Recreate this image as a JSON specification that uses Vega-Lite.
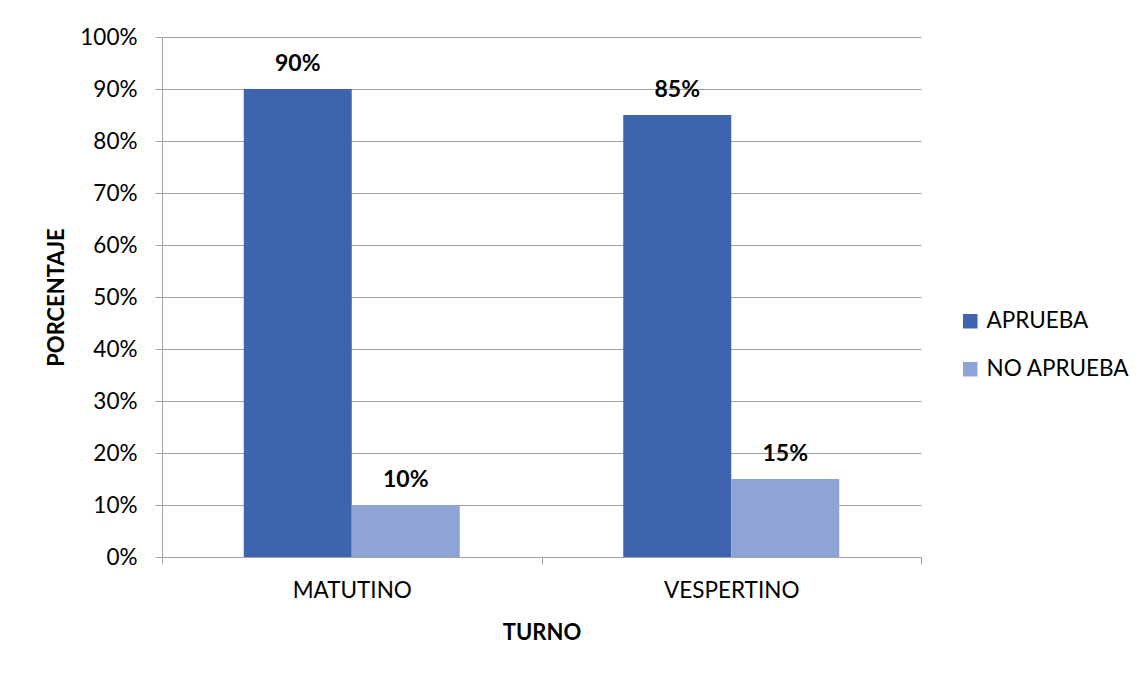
{
  "$schema": "https://vega.github.io/schema/vega-lite/v6.json",
  "width": 759,
  "height": 520,
  "autosize": {"type": "none"},
  "padding": {"left": 162, "top": 37, "right": 225, "bottom": 118},
  "background": "white",
  "config": {
    "font": "Lato",
    "view": {"stroke": null},
    "axis": {
      "domainColor": "#A3A3A3",
      "tickColor": "#A3A3A3",
      "gridColor": "#A3A3A3",
      "domainWidth": 1,
      "tickWidth": 1,
      "gridWidth": 1,
      "tickSize": 7,
      "labelFont": "Lato",
      "labelFontSize": 22.5,
      "labelColor": "#000000",
      "titleFont": "Lato",
      "titleFontSize": 22,
      "titleFontWeight": "bold",
      "titleColor": "#000000"
    }
  },
  "data": {
    "values": [
      {"turno": "MATUTINO", "resultado": "APRUEBA", "porcentaje": 0.90},
      {"turno": "MATUTINO", "resultado": "NO APRUEBA", "porcentaje": 0.10},
      {"turno": "VESPERTINO", "resultado": "APRUEBA", "porcentaje": 0.85},
      {"turno": "VESPERTINO", "resultado": "NO APRUEBA", "porcentaje": 0.15}
    ]
  },
  "encoding": {
    "x": {
      "field": "turno",
      "type": "nominal",
      "sort": ["MATUTINO", "VESPERTINO"],
      "scale": {"paddingInner": 0, "paddingOuter": 0},
      "axis": {
        "title": "TURNO",
        "labelAngle": 0,
        "tickBand": "extent",
        "labelPadding": 15,
        "grid": false,
        "titleX": 379.5,
        "titleY": 75,
        "titleAlign": "center",
        "titleBaseline": "middle"
      }
    },
    "xOffset": {
      "field": "resultado",
      "type": "nominal",
      "sort": ["APRUEBA", "NO APRUEBA"],
      "scale": {"paddingInner": 0, "paddingOuter": 0.757}
    },
    "y": {
      "field": "porcentaje",
      "type": "quantitative",
      "scale": {"domain": [0, 1], "nice": false},
      "axis": {
        "title": "PORCENTAJE",
        "values": [0, 0.1, 0.2, 0.3, 0.4, 0.5, 0.6, 0.7, 0.8, 0.9, 1],
        "format": ".0%",
        "labelPadding": 18,
        "grid": true,
        "titleAngle": -90,
        "titleX": -106,
        "titleY": 260,
        "titleAlign": "center",
        "titleBaseline": "middle"
      }
    }
  },
  "layer": [
    {
      "mark": {"type": "bar"},
      "encoding": {
        "color": {
          "field": "resultado",
          "type": "nominal",
          "sort": ["APRUEBA", "NO APRUEBA"],
          "scale": {"domain": ["APRUEBA", "NO APRUEBA"], "range": ["#3E64AD", "#8EA4D4"]},
          "legend": {
            "title": null,
            "orient": "none",
            "legendX": 797,
            "legendY": 273,
            "symbolType": "square",
            "symbolSize": 210,
            "symbolStrokeWidth": 0,
            "labelFont": "Lato",
            "labelFontSize": 22.5,
            "labelColor": "#000000",
            "labelOffset": 5,
            "rowPadding": 25
          }
        }
      }
    },
    {
      "mark": {
        "type": "text",
        "font": "Lato",
        "fontSize": 23,
        "fontWeight": "bold",
        "color": "#000000",
        "baseline": "alphabetic",
        "dy": -18
      },
      "encoding": {
        "text": {"field": "porcentaje", "type": "quantitative", "format": ".0%"}
      }
    }
  ]
}
